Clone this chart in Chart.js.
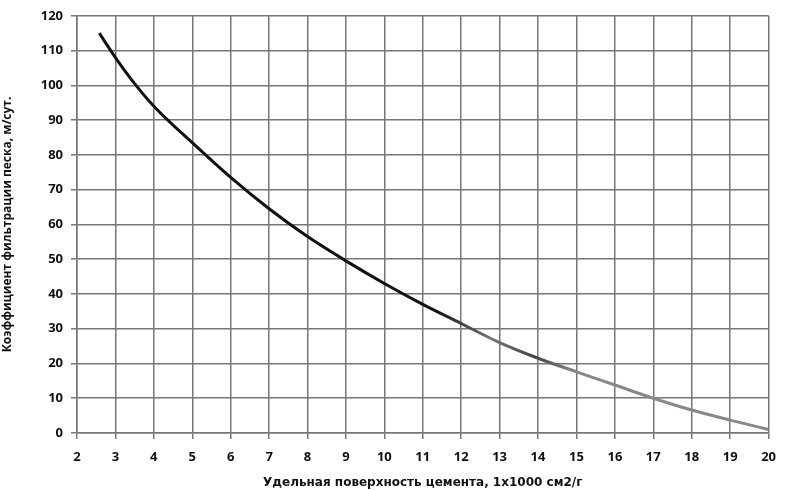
<!DOCTYPE html>
<html>
<head>
<meta charset="utf-8">
<script src="https://cdn.jsdelivr.net/npm/chart.js@4/dist/chart.umd.min.js"></script>
<style>
  body { margin: 0; background: #fff; }
  #wrap { width: 786px; height: 490px; }
</style>
</head>
<body>
<div id="wrap"><canvas id="myChart"></canvas></div>
<script>
// surface area values (x 1000 cm2/g) and filtration coefficient (m/day)
const surface = [2.58, 3, 3.5, 4, 5, 6, 7, 8, 9, 10, 11, 12, 13, 14, 15, 16, 17, 18, 19, 20];
const filtration = [115, 108, 100.5, 94, 83.5, 73.5, 64.5, 56.5, 49.5, 43, 37, 31.5, 26, 21.5, 17.6, 13.8, 10, 6.6, 3.7, 1];

const xTitle = 'Удельная поверхность цемента, 1х1000 см2/г';
const yTitle = 'Коэффициент фильтрации песка, м/сут.';

const points = surface.map((x, i) => ({ x: x, y: filtration[i] }));

// line goes from black to grey (like the scan)
function lineColor(context) {
    const area = context.chart.chartArea;
    if (!area) return '#111';
    const g = context.chart.ctx.createLinearGradient(area.left, 0, area.right, 0);
    g.addColorStop(0, '#111');
    g.addColorStop(0.52, '#111');
    g.addColorStop(0.6, '#777');
    g.addColorStop(0.66, '#444');
    g.addColorStop(0.72, '#888');
    g.addColorStop(1, '#888');
    return g;
}

const tickFont = { family: 'Open Sans', size: 13, weight: 'bold' };

const ctx = document.getElementById('myChart').getContext('2d');
const chart = new Chart(ctx, {
    type: 'scatter',
    data: {
        datasets: [{
            data: points,
            showLine: true,
            borderColor: lineColor,
            borderWidth: 3,
            pointRadius: 0,
            cubicInterpolationMode: 'monotone'
        }]
    },
    options: {
        responsive: true,
        maintainAspectRatio: false,
        animation: false,
        layout: { padding: { top: 15, right: 13, left: 0, bottom: 0 } },
        plugins: {
            legend: { display: false },
            tooltip: { enabled: false }
        },
        scales: {
            x: {
                type: 'linear',
                min: 2,
                max: 20,
                ticks: { stepSize: 1, color: '#111', font: tickFont, padding: 10 },
                grid: { color: '#777', lineWidth: 1.5, tickLength: 6, tickColor: '#777' },
                border: { color: '#777', width: 1.5 },
                title: {
                    display: true,
                    text: xTitle,
                    color: '#111',
                    font: { family: 'DejaVu Sans', size: 12, weight: 'bold' },
                    padding: { top: 4, bottom: 0 }
                },
                afterFit: (scale) => { scale.height = 57; }
            },
            y: {
                min: 0,
                max: 120,
                ticks: { stepSize: 10, color: '#111', font: tickFont, padding: 8 },
                grid: { color: '#777', lineWidth: 1.5, tickLength: 6, tickColor: '#777' },
                border: { color: '#777', width: 1.5 },
                title: {
                    display: true,
                    text: yTitle,
                    color: '#111',
                    font: { family: 'Open Sans', size: 12, weight: 'bold' },
                    padding: { top: 0, bottom: 0 }
                },
                afterFit: (scale) => { scale.width = 77; }
            }
        }
    }
});
</script>
</body>
</html>
